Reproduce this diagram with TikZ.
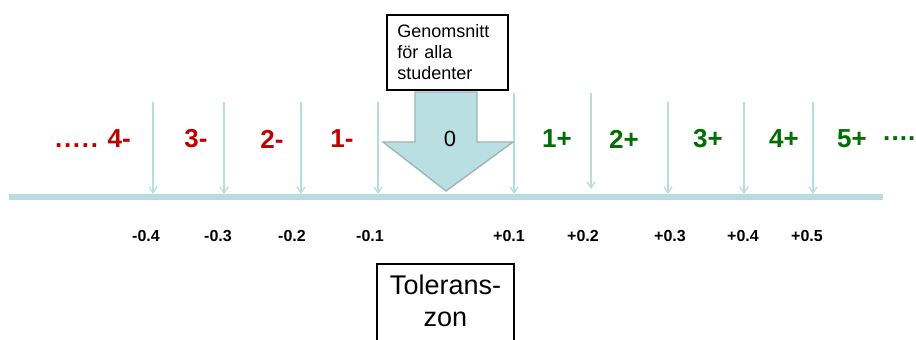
\documentclass[tikz,border=0pt]{standalone}
\usepackage{fontspec}
\setmainfont{Liberation Sans}
\usetikzlibrary{arrows.meta}
\definecolor{axisblue}{HTML}{B7DDE0}
\definecolor{arrowfill}{HTML}{B9DFE3}
\definecolor{arrowedge}{HTML}{9DB5B8}
\definecolor{negred}{HTML}{C00000}
\definecolor{posgreen}{HTML}{006E00}
\newcommand{\mydots}{.\kern1.7pt.\kern1.7pt.\kern1.7pt.\kern1.7pt.}
\newcommand{\mydotsr}{.\kern1.1pt.\kern1.1pt.\kern1.1pt.}
\tikzset{
  axisline/.style={axisblue, line width=6pt},
  tickarrow/.style={axisblue, line width=1.5pt, -{Straight Barb[length=6pt,width=8pt,line width=1.3pt]}},
  neglabel/.style={text=negred, font=\fontsize{26}{30}\selectfont\bfseries, inner sep=0pt},
  poslabel/.style={text=posgreen, font=\fontsize{26}{30}\selectfont\bfseries, inner sep=0pt},
  ticklabel/.style={font=\fontsize{16}{19}\selectfont\bfseries, inner sep=0pt},
  bigarrow/.style={fill=arrowfill, draw=arrowedge, line width=1.4pt, line join=miter},
  textbox/.style={draw=black, line width=1.8pt, fill=white}
}
\begin{document}
\begin{tikzpicture}[x=1pt,y=-1pt]
\useasboundingbox (0,0) rectangle (916,340);
\clip (0,0) rectangle (916,340);

% axis
\coordinate (axL) at (9,197);
\coordinate (axR) at (883,197);
\draw[axisline] (axL) -- (axR);

% tick arrows
\foreach \n/\x/\yt/\yb in {m4/153/102/194, m3/224/102/194, m2/301/102/194, m1/378/102/194,
                           p1/514/93/194, p2/591/93/189, p3/668/102/194, p4/744/102/194, p5/813/102/194}{
  \coordinate (t\n) at (\x,\yt);
  \coordinate (b\n) at (\x,\yb);
  \draw[tickarrow] (t\n) -- (b\n);
}

% big arrow
\draw[bigarrow] (415,92) -- (477,92) -- (477,142) -- (513,142) -- (446,191) -- (383,142) -- (415,142) -- cycle;
\node[font=\fontsize{22}{24}\selectfont, inner sep=0pt] (zero) at (450,139) {0};

% top box
\node[textbox, anchor=north west, text width=100pt, inner xsep=10.5pt, inner ysep=10pt,
      align=left, font=\fontsize{18}{21}\selectfont] (avg) at (386,14)
  {Genomsnitt\\för alla\\studenter};

% bottom box
\node[textbox, anchor=north, text width=115pt, inner xsep=11pt, inner ysep=11pt, align=center,
      text depth=40pt, font=\fontsize{27}{32}\selectfont] (tol) at (445.5,263)
  {Tolerans-\\zon};

% category labels
\node[neglabel, anchor=east] (l4) at (131,139) {\mydots{} 4-};
\node[neglabel] (l3) at (196,139) {3-};
\node[neglabel] (l2) at (272,139) {2-};
\node[neglabel] (l1) at (342,139) {1-};
\node[poslabel] (r1) at (557,139) {1+};
\node[poslabel] (r2) at (624,139) {2+};
\node[poslabel] (r3) at (708,139) {3+};
\node[poslabel] (r4) at (784,139) {4+};
\node[poslabel] (r5) at (852,139) {5+};
\node[poslabel, anchor=west] (rdots) at (883,139) {\mydotsr};

% tick values
\node[ticklabel] (v1) at (146,236) {-0.4};
\node[ticklabel] (v2) at (218,236) {-0.3};
\node[ticklabel] (v3) at (292,236) {-0.2};
\node[ticklabel] (v4) at (370,236) {-0.1};
\node[ticklabel] (v5) at (509,236) {+0.1};
\node[ticklabel] (v6) at (583,236) {+0.2};
\node[ticklabel] (v7) at (670,236) {+0.3};
\node[ticklabel] (v8) at (743,236) {+0.4};
\node[ticklabel] (v9) at (807,236) {+0.5};
\end{tikzpicture}
\end{document}
